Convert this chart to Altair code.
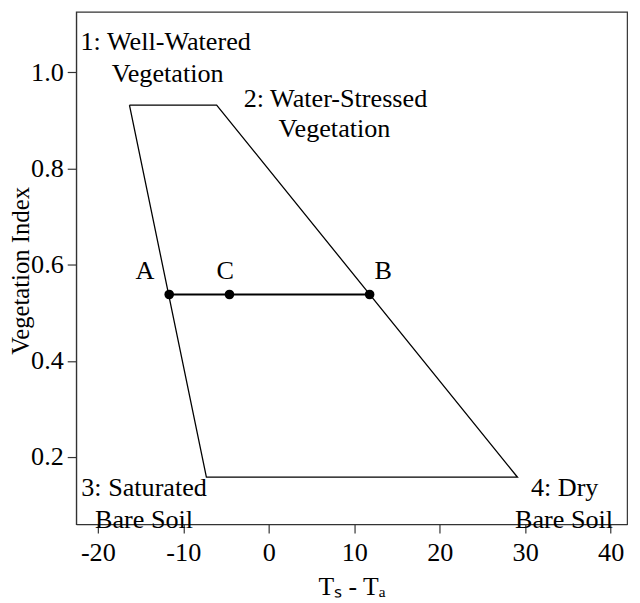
import altair as alt
import pandas as pd

# Trapezoid (VITT) vertices: 1 -> 2 -> 4 -> 3 -> 1
poly_x = [-16.3, -6.1, 29.1, -7.3, -16.3]
poly_y = [0.932, 0.932, 0.158, 0.158, 0.932]

# Points A, C, B on the horizontal line
pt_names = ["A", "C", "B"]
pt_x = [-11.65, -4.6, 11.8]
pt_y = [0.538, 0.538, 0.538]

# Point letter labels
lab_x = [-14.5, -5.1, 13.4]
lab_y = [0.586, 0.586, 0.586]

# Corner annotations
ann_text = ["1: Well-Watered", "Vegetation", "2: Water-Stressed", "Vegetation",
            "3: Saturated", "Bare Soil", "4: Dry", "Bare Soil"]
ann_x = [-12.06, -11.83, 7.8, 7.69, -14.59, -14.59, 34.62, 34.55]
ann_y = [1.062, 0.996, 0.945, 0.883, 0.136, 0.068, 0.136, 0.068]

x_ticks = [-20, -10, 0, 10, 20, 30, 40]
y_ticks = [0.2, 0.4, 0.6, 0.8, 1.0]

FONT = "Liberation Serif"
FS = 26.5

poly_df = pd.DataFrame({"x": poly_x, "y": poly_y, "o": list(range(len(poly_x)))})
pts_df = pd.DataFrame({"x": pt_x, "y": pt_y, "name": pt_names})
lab_df = pd.DataFrame({"x": lab_x, "y": lab_y, "name": pt_names})
ann_df = pd.DataFrame({"x": ann_x, "y": ann_y, "t": ann_text})

xs = alt.Scale(domain=[-22.54, 41.92], nice=False, zero=False)
ys = alt.Scale(domain=[0.0603, 1.126], nice=False, zero=False)

xaxis = alt.Axis(values=x_ticks, title="Tₛ - Tₐ", labelExpr="'' + datum.value", grid=False,
                 labelPadding=7, titleY=63, titleBaseline="middle", titleFontSize=26)
yaxis = alt.Axis(values=y_ticks, title="Vegetation Index", format=".1f", grid=False,
                 labelPadding=4, titleX=-56, titleY=262, titleBaseline="middle",
                 titleAlign="center", titleAngle=-90)

X = alt.X("x:Q", scale=xs, axis=xaxis)
Y = alt.Y("y:Q", scale=ys, axis=yaxis)

poly = alt.Chart(poly_df).mark_line(color="black", strokeWidth=1.3).encode(
    x=X, y=Y, order="o:Q")
seg = alt.Chart(pts_df).mark_line(color="black", strokeWidth=2).encode(x=X, y=Y)
dots = alt.Chart(pts_df).mark_circle(size=95, color="black", opacity=1).encode(x=X, y=Y)
letters = alt.Chart(lab_df).mark_text(font=FONT, fontSize=FS, color="black",
                                      baseline="middle", align="center").encode(
    x=X, y=Y, text="name:N")
ann = alt.Chart(ann_df).mark_text(font=FONT, fontSize=FS, color="black",
                                  baseline="middle", align="center").encode(
    x=X, y=Y, text="t:N")

chart = alt.layer(poly, seg, dots, letters, ann).properties(
    width=558, height=519,
    autosize=alt.AutoSizeParams(type="none"),
    padding={"left": 69, "top": 0, "right": 5, "bottom": 77},
).configure_view(stroke="#333", strokeWidth=1.2).configure_axis(
    labelFont=FONT, labelFontSize=FS, labelColor="black",
    titleFont=FONT, titleFontSize=25, titleColor="black", titleFontWeight="normal",
    tickColor="#333", tickSize=9, tickWidth=1.2,
    domainColor="#333", domainWidth=1.2,
)

chart.save("out.html", embed_options={"renderer": "svg", "actions": False})
